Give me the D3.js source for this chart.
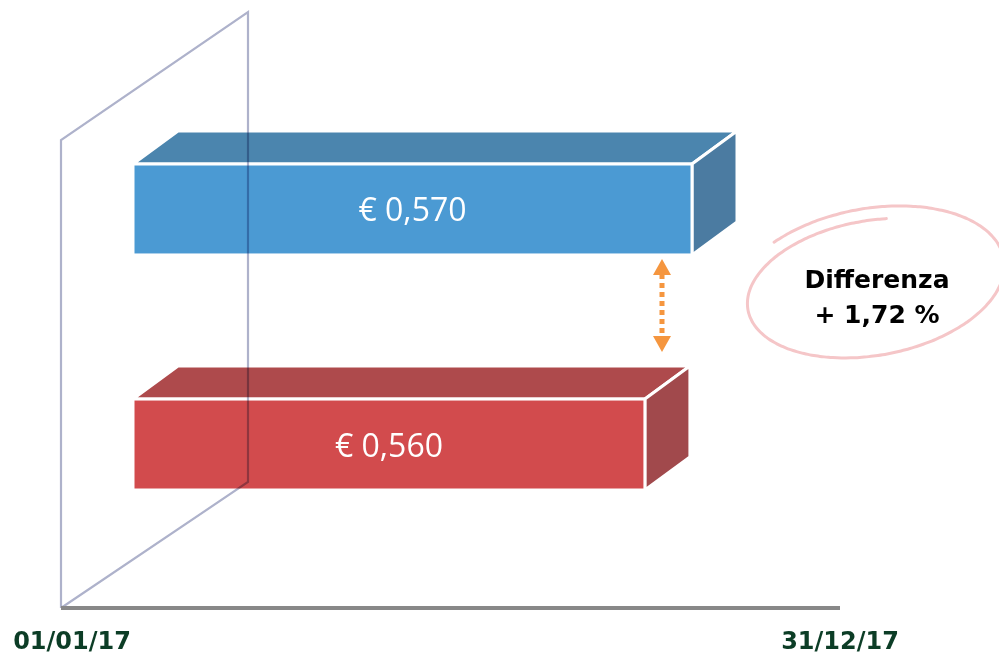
<!DOCTYPE html>
<html>
<head>
<meta charset="utf-8">
<script src="https://cdn.jsdelivr.net/npm/d3@7"></script>
<style>
  html, body { margin: 0; padding: 0; background: #fff; }
  svg { display: block; }
</style>
</head>
<body>
<div id="chart"></div>
<script>
// data
var categories = ['31/12/17', '01/01/17'];
var values = [0.570, 0.560];
var frontColors = ['#4b9ad3', '#d24b4d'];
var topColors = ['#4b85ae', '#ae4a4c'];
var sideColors = ['#4b7ba1', '#a1494c'];
var dateLabels = ['01/01/17', '31/12/17'];
var diffTitle = 'Differenza';
var diffValue = 1.72;

var width = 999, height = 654;
var dx = 45, dy = -33;

var svg = d3.select('#chart').append('svg')
    .attr('width', width)
    .attr('height', height);

var x = d3.scaleLinear().domain([0.4513, 0.570]).range([133, 692]);
var y = d3.scaleBand().domain(categories).range([164, 490]).paddingInner(0.613);
var t = d3.scaleLinear().domain([0, 1]).range([61, 840]);

var fmt = function(v) { return '\u20ac ' + d3.format('.3f')(v).replace('.', ','); };

// bars as 3d boxes
var bars = svg.selectAll('.bar')
    .data(values)
    .enter().append('g')
    .attr('class', 'bar');

bars.append('path')
    .attr('d', function(d, i) {
        var x0 = x.range()[0], x1 = x(d), y0 = y(categories[i]);
        return 'M' + x0 + ',' + y0 + 'L' + x1 + ',' + y0 + 'L' + (x1 + dx) + ',' + (y0 + dy) +
            'L' + (x0 + dx) + ',' + (y0 + dy) + 'Z';
    })
    .attr('fill', function(d, i) { return topColors[i]; })
    .attr('stroke', '#fff').attr('stroke-width', 3)
    .attr('stroke-linejoin', 'round');

bars.append('path')
    .attr('d', function(d, i) {
        var x1 = x(d), y0 = y(categories[i]), y1 = y0 + y.bandwidth();
        return 'M' + x1 + ',' + y0 + 'L' + (x1 + dx) + ',' + (y0 + dy) + 'L' + (x1 + dx) + ',' + (y1 + dy) +
            'L' + x1 + ',' + y1 + 'Z';
    })
    .attr('fill', function(d, i) { return sideColors[i]; })
    .attr('stroke', '#fff').attr('stroke-width', 3)
    .attr('stroke-linejoin', 'round');

bars.append('rect')
    .attr('x', x.range()[0])
    .attr('y', function(d, i) { return y(categories[i]); })
    .attr('width', function(d) { return x(d) - x.range()[0]; })
    .attr('height', y.bandwidth())
    .attr('fill', function(d, i) { return frontColors[i]; })
    .attr('stroke', '#fff').attr('stroke-width', 3);

bars.append('text')
    .attr('x', function(d) { return (x.range()[0] + x(d)) / 2; })
    .attr('y', function(d, i) { return y(categories[i]) + y.bandwidth() / 2 + 12; })
    .attr('text-anchor', 'middle')
    .attr('fill', '#fff')
    .style('font-family', '"Open Sans", sans-serif')
    .style('font-size', '32px')
    .text(fmt);

// back wall, multiplied over the boxes
var wall = [[61, 608], [61, 140], [248, 12], [248, 482], [61, 608]];
svg.append('path')
    .attr('d', d3.line()(wall))
    .attr('fill', 'none')
    .attr('stroke', '#aeb2cb')
    .attr('stroke-width', 2.2)
    .style('mix-blend-mode', 'multiply');

// time axis
svg.append('line')
    .attr('x1', t(0)).attr('x2', t(1))
    .attr('y1', 608).attr('y2', 608)
    .attr('stroke', '#888')
    .attr('stroke-width', 4);

svg.selectAll('.date')
    .data(dateLabels)
    .enter().append('text')
    .attr('class', 'date')
    .attr('x', function(d, i) { return i === 0 ? 72 : t(1); })
    .attr('y', 649)
    .attr('text-anchor', 'middle')
    .attr('fill', '#0c3d26')
    .style('font-family', '"DejaVu Sans", Verdana, sans-serif')
    .style('font-weight', 'bold')
    .style('font-size', '24px')
    .text(function(d) { return d; });

// difference arrow
var ax = 662;
var aTop = y(categories[0]) + y.bandwidth() + 4;
var aBot = y(categories[1]) - 47;
svg.append('line')
    .attr('x1', ax).attr('x2', ax)
    .attr('y1', aTop + 15).attr('y2', aBot - 15)
    .attr('stroke', '#f5963f')
    .attr('stroke-width', 5)
    .attr('stroke-dasharray', '5,4');
svg.append('path')
    .attr('d', 'M' + ax + ',' + aTop + 'L' + (ax + 9) + ',' + (aTop + 16) + 'L' + (ax - 9) + ',' + (aTop + 16) + 'Z')
    .attr('fill', '#f5963f');
svg.append('path')
    .attr('d', 'M' + ax + ',' + aBot + 'L' + (ax + 9) + ',' + (aBot - 16) + 'L' + (ax - 9) + ',' + (aBot - 16) + 'Z')
    .attr('fill', '#f5963f');

// hand drawn ellipse
var cx = 872, cy = 285, rot = -11 * Math.PI / 180;
var pts = d3.range(0, 1.0001, 0.005).map(function(p) {
    var a = -1.35 - p * (2 * Math.PI + 0.9);
    var rx = 122 + p * 18, ry = 64 + p * 14;
    var ex = rx * Math.cos(a), ey = ry * Math.sin(a);
    return [cx + ex * Math.cos(rot) - ey * Math.sin(rot), cy + ex * Math.sin(rot) + ey * Math.cos(rot)];
});
svg.append('path')
    .attr('d', d3.line().curve(d3.curveBasis)(pts))
    .attr('fill', 'none')
    .attr('stroke', '#f5c6c8')
    .attr('stroke-width', 3)
    .attr('stroke-linecap', 'round');

svg.append('text')
    .attr('x', 877).attr('y', 288)
    .attr('text-anchor', 'middle')
    .attr('fill', '#000')
    .style('font-family', '"DejaVu Sans", Verdana, sans-serif')
    .style('font-weight', 'bold')
    .style('font-size', '25px')
    .text(diffTitle);
svg.append('text')
    .attr('x', 877).attr('y', 323)
    .attr('text-anchor', 'middle')
    .attr('fill', '#000')
    .style('font-family', '"DejaVu Sans", Verdana, sans-serif')
    .style('font-weight', 'bold')
    .style('font-size', '25px')
    .text('+ ' + d3.format('.2f')(diffValue).replace('.', ',') + ' %');
</script>
</body>
</html>
